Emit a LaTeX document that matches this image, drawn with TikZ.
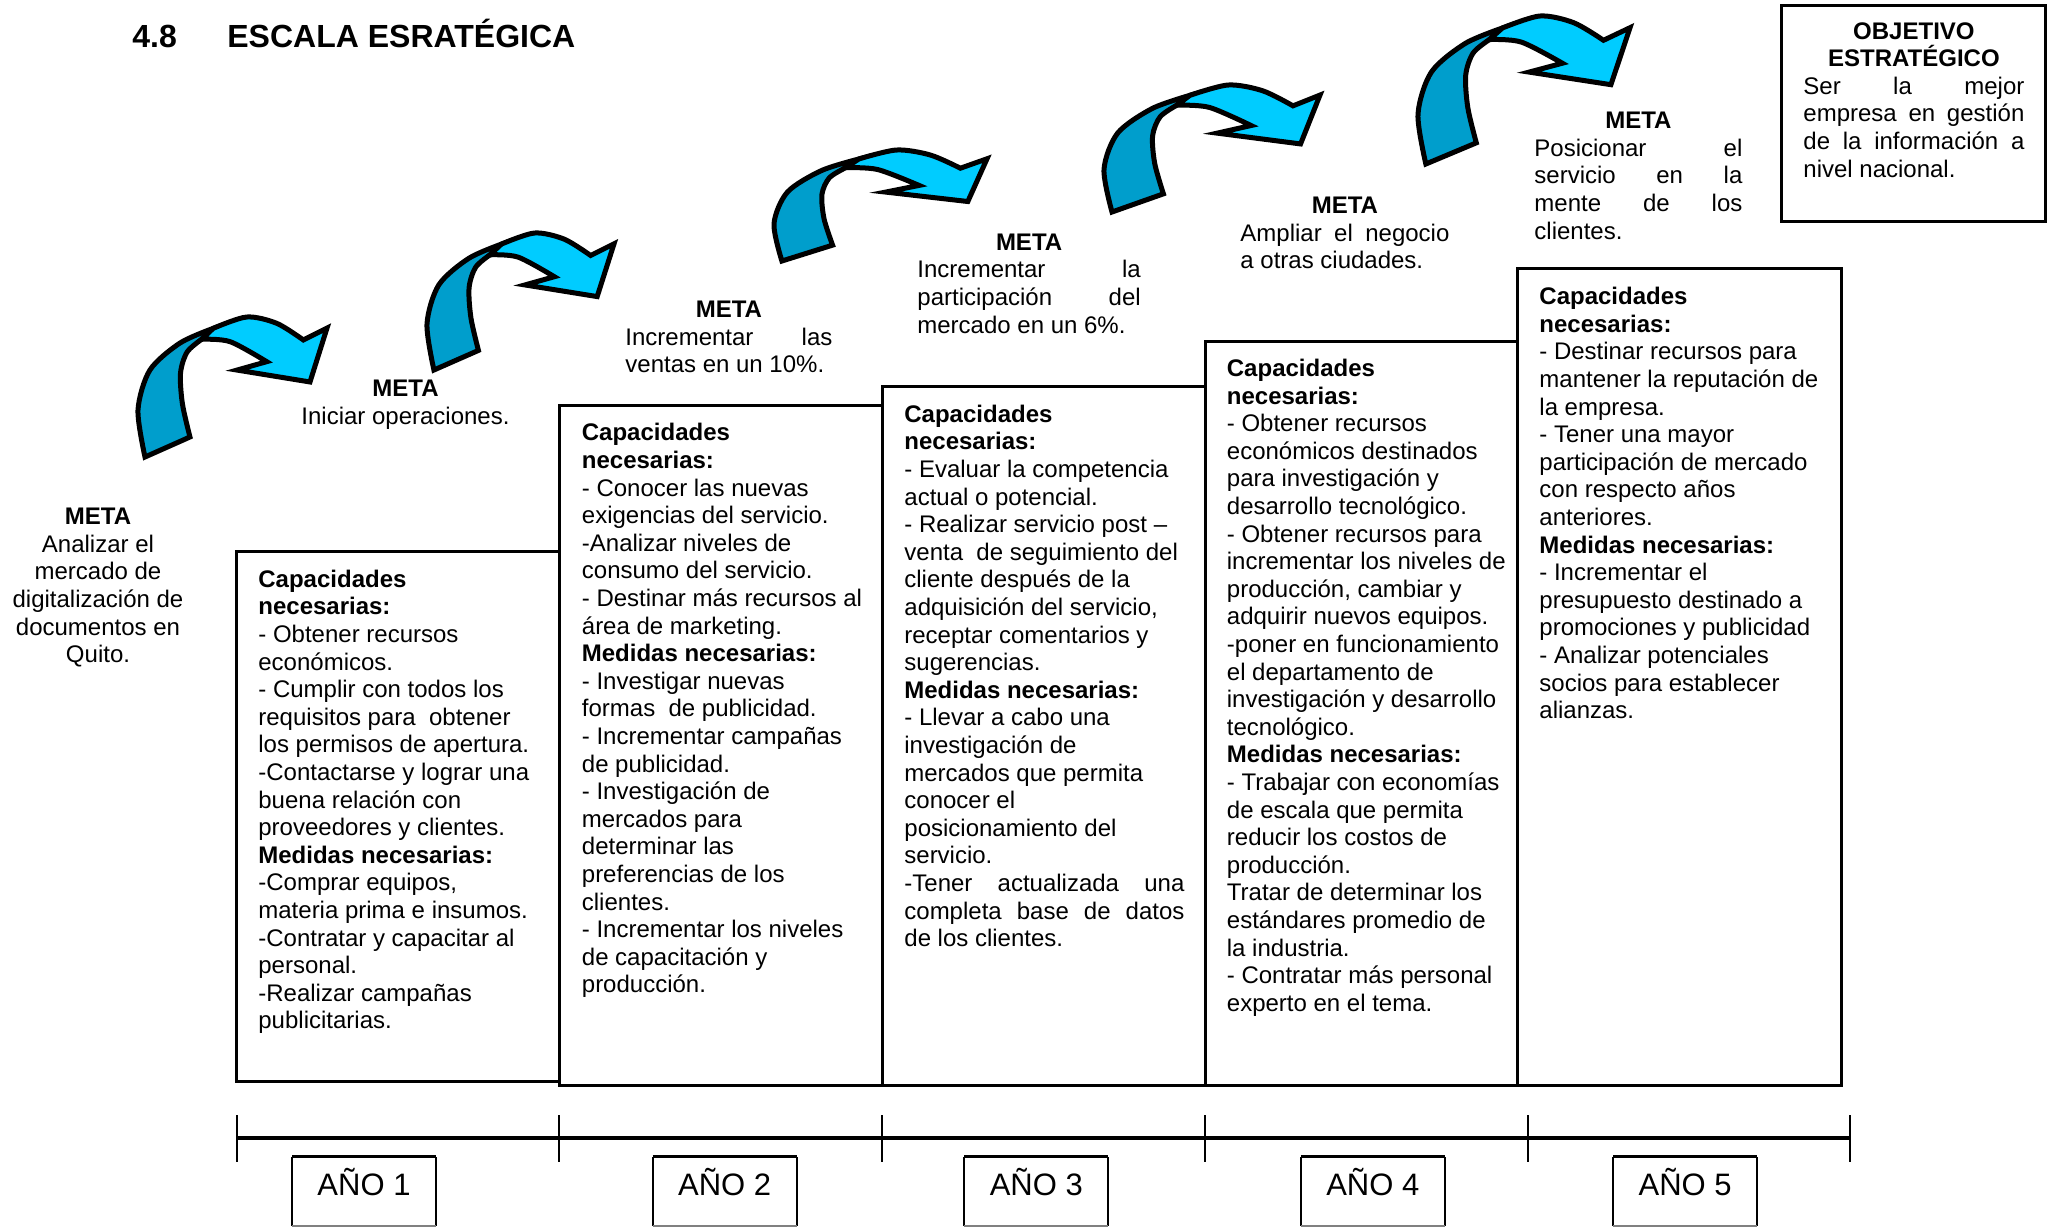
\documentclass[tikz,border=0pt]{standalone}
\usepackage{fontspec}
\setmainfont{Liberation Sans}
\usepackage{tikz}

\definecolor{arrowlight}{RGB}{0,204,255}
\definecolor{arrowdark}{RGB}{0,158,204}

\tikzset{
  boxline/.style={line width=1.5pt},
  arrowpart/.style={line width=2.5pt},
  txt/.style={font=\fontsize{12}{13.8}\selectfont, inner sep=0pt, align=left, anchor=north west},
  titletxt/.style={font=\fontsize{16}{19}\selectfont\bfseries, inner sep=0pt, anchor=base west},
  yeartxt/.style={font=\fontsize{15.5}{18}\selectfont, inner sep=0pt, anchor=base},
}

% justified and centred lines of a given width
\newcommand{\fullline}[2]{\makebox[#1][s]{#2}}
\newcommand{\midline}[2]{\makebox[#1][c]{#2}}

% curved arrow, placed in the box (x0,y0) of size w x h
\newcommand{\metaarrow}[4]{%
  \begin{scope}[shift={(#1,#2)}, xscale=#3, yscale=#4]
    \filldraw[arrowpart, fill=arrowdark]
      plot[smooth] coordinates {(0.037,1) (0,0.664) (0.063,0.379) (0.222,0.186) (0.398,0.081)}
      -- plot[smooth] coordinates {(0.337,0.159) (0.26,0.25) (0.225,0.40) (0.235,0.62) (0.275,0.857)}
      -- cycle;
    \filldraw[arrowpart, fill=arrowlight]
      plot[smooth] coordinates {(0.398,0.081) (0.575,0) (0.734,0.045) (0.875,0.164)}
      -- (1,0.079) -- (0.91,0.464) -- (0.524,0.379) -- (0.681,0.319)
      -- plot[smooth] coordinates {(0.681,0.319) (0.487,0.176) (0.337,0.159)}
      -- cycle;
  \end{scope}}

\begin{document}
\begin{tikzpicture}[x=0.5pt,y=-0.5pt]
  \useasboundingbox (0,0) rectangle (2049,1228);

  % title
  \node[titletxt] (num) at (132,47) {4.8};
  \node[titletxt] (title) at (227,47) {ESCALA ESRATÉGICA};

  % arrows between the steps
  \metaarrow{138}{317}{189}{140}
  \metaarrow{427}{233}{187}{137}
  \metaarrow{774}{150}{213}{111}
  \metaarrow{1104}{85}{216}{127}
  \metaarrow{1418}{16}{212}{148}

  % metas
  \node[txt, anchor=north, align=center] (meta0) at (98,507.7) {\textbf{META}\\ Analizar el\\ mercado de\\ digitalización de\\ documentos en\\ Quito.};
  \node[txt, anchor=north, align=center] (meta1) at (405.5,380) {\textbf{META}\\ Iniciar operaciones.};
  \node[txt] (meta2) at (625,300.5) {\midline{103.5pt}{\textbf{META}}\\ \fullline{103.5pt}{Incrementar las}\\ ventas en un 10\%.};
  \node[txt] (meta3) at (917,233.3) {\midline{111.7pt}{\textbf{META}}\\ \fullline{111.7pt}{Incrementar la}\\ \fullline{111.7pt}{participación del}\\ mercado en un 6\%.};
  \node[txt] (meta4) at (1240,196.7) {\midline{104.5pt}{\textbf{META}}\\ \fullline{104.5pt}{Ampliar el negocio}\\ a otras ciudades.};
  \node[txt] (meta5) at (1534,111.7) {\midline{104pt}{\textbf{META}}\\ \fullline{104pt}{Posicionar el}\\ \fullline{104pt}{servicio en la}\\ \fullline{104pt}{mente de los}\\ clientes.};

  % objective
  \draw[boxline] (1781,5) rectangle (2045.5,221);
  \node[txt] (obj) at (1803,22) {\midline{110.5pt}{\textbf{OBJETIVO}}\\ \midline{110.5pt}{\textbf{ESTRATÉGICO}}\\ \fullline{110.5pt}{Ser la mejor}\\ \fullline{110.5pt}{empresa en gestión}\\ \fullline{110.5pt}{de la información a}\\ nivel nacional.};

  % steps
  \draw[boxline] (236.5,551.5) rectangle (559,1081);
  \draw[boxline] (559,405) rectangle (882,1085);
  \draw[boxline] (882,386.8) rectangle (1205,1085);
  \draw[boxline] (1205,341) rectangle (1517,1085);
  \draw[boxline] (1517,268) rectangle (1841,1085);

  \node[txt] (cap1) at (258,569.5) {\textbf{Capacidades}\\ \textbf{necesarias:}\\ - Obtener recursos\\ económicos.\\ - Cumplir con todos los\\ requisitos para~ obtener\\ los permisos de apertura.\\ -Contactarse y lograr una\\ buena relación con\\ proveedores y clientes.\\ \textbf{Medidas necesarias:}\\ -Comprar equipos,\\ materia prima e insumos.\\ -Contratar y capacitar al\\ personal.\\ -Realizar campañas\\ publicitarias.};
  \node[txt] (cap2) at (581.5,423) {\textbf{Capacidades}\\ \textbf{necesarias:}\\ - Conocer las nuevas\\ exigencias del servicio.\\ -Analizar niveles de\\ consumo del servicio.\\ - Destinar más recursos al\\ área de marketing.\\ \textbf{Medidas necesarias:}\\ - Investigar nuevas\\ formas~ de publicidad.\\ - Incrementar campañas\\ de publicidad.\\ - Investigación de\\ mercados para\\ determinar las\\ preferencias de los\\ clientes.\\ - Incrementar los niveles\\ de capacitación y\\ producción.};
  \node[txt] (cap3) at (904,404.5) {\textbf{Capacidades}\\ \textbf{necesarias:}\\ - Evaluar la competencia\\ actual o potencial.\\ - Realizar servicio post –\\ venta~ de seguimiento del\\ cliente después de la\\ adquisición del servicio,\\ receptar comentarios y\\ sugerencias.\\ \textbf{Medidas necesarias:}\\ - Llevar a cabo una\\ investigación de\\ mercados que permita\\ conocer el\\ posicionamiento del\\ servicio.\\ \fullline{140pt}{-Tener actualizada una}\\ \fullline{140pt}{completa base de datos}\\ de los clientes.};
  \node[txt] (cap4) at (1226.5,358.7) {\textbf{Capacidades}\\ \textbf{necesarias:}\\ - Obtener recursos\\ económicos destinados\\ para investigación y\\ desarrollo tecnológico.\\ - Obtener recursos para\\ incrementar los niveles de\\ producción, cambiar y\\ adquirir nuevos equipos.\\ -poner en funcionamiento\\ el departamento de\\ investigación y desarrollo\\ tecnológico.\\ \textbf{Medidas necesarias:}\\ - Trabajar con economías\\ de escala que permita\\ reducir los costos de\\ producción.\\ Tratar de determinar los\\ estándares promedio de\\ la industria.\\ - Contratar más personal\\ experto en el tema.};
  \node[txt] (cap5) at (1539,286.8) {\textbf{Capacidades}\\ \textbf{necesarias:}\\ - Destinar recursos para\\ mantener la reputación de\\ la empresa.\\ - Tener una mayor\\ participación de mercado\\ con respecto años\\ anteriores.\\ \textbf{Medidas necesarias:}\\ - Incrementar el\\ presupuesto destinado a\\ promociones y publicidad\\ - Analizar potenciales\\ socios para establecer\\ alianzas.};

  % time line
  \draw[line width=2pt] (236.5,1138) -- (1850,1138);
  \foreach \tx in {236.5,559,882,1205,1528,1850}
    \draw[line width=1pt] (\tx,1115) -- (\tx,1162);

  \foreach \cx/\n in {364/1,724.6/2,1036.3/3,1372.8/4,1685.1/5} {
    \draw[line width=1pt] (\cx-72,1226) -- (\cx-72,1156.5);
    \draw[line width=1pt] (\cx+72,1226) -- (\cx+72,1156.5);
    \draw[line width=1.6pt] (\cx-72,1156.5) -- (\cx+72,1156.5);
    \draw[line width=0.8pt, gray] (\cx-72,1226) -- (\cx+72,1226);
    \node[yeartxt] (year\n) at (\cx,1195) {AÑO \n};
  }
\end{tikzpicture}
\end{document}
